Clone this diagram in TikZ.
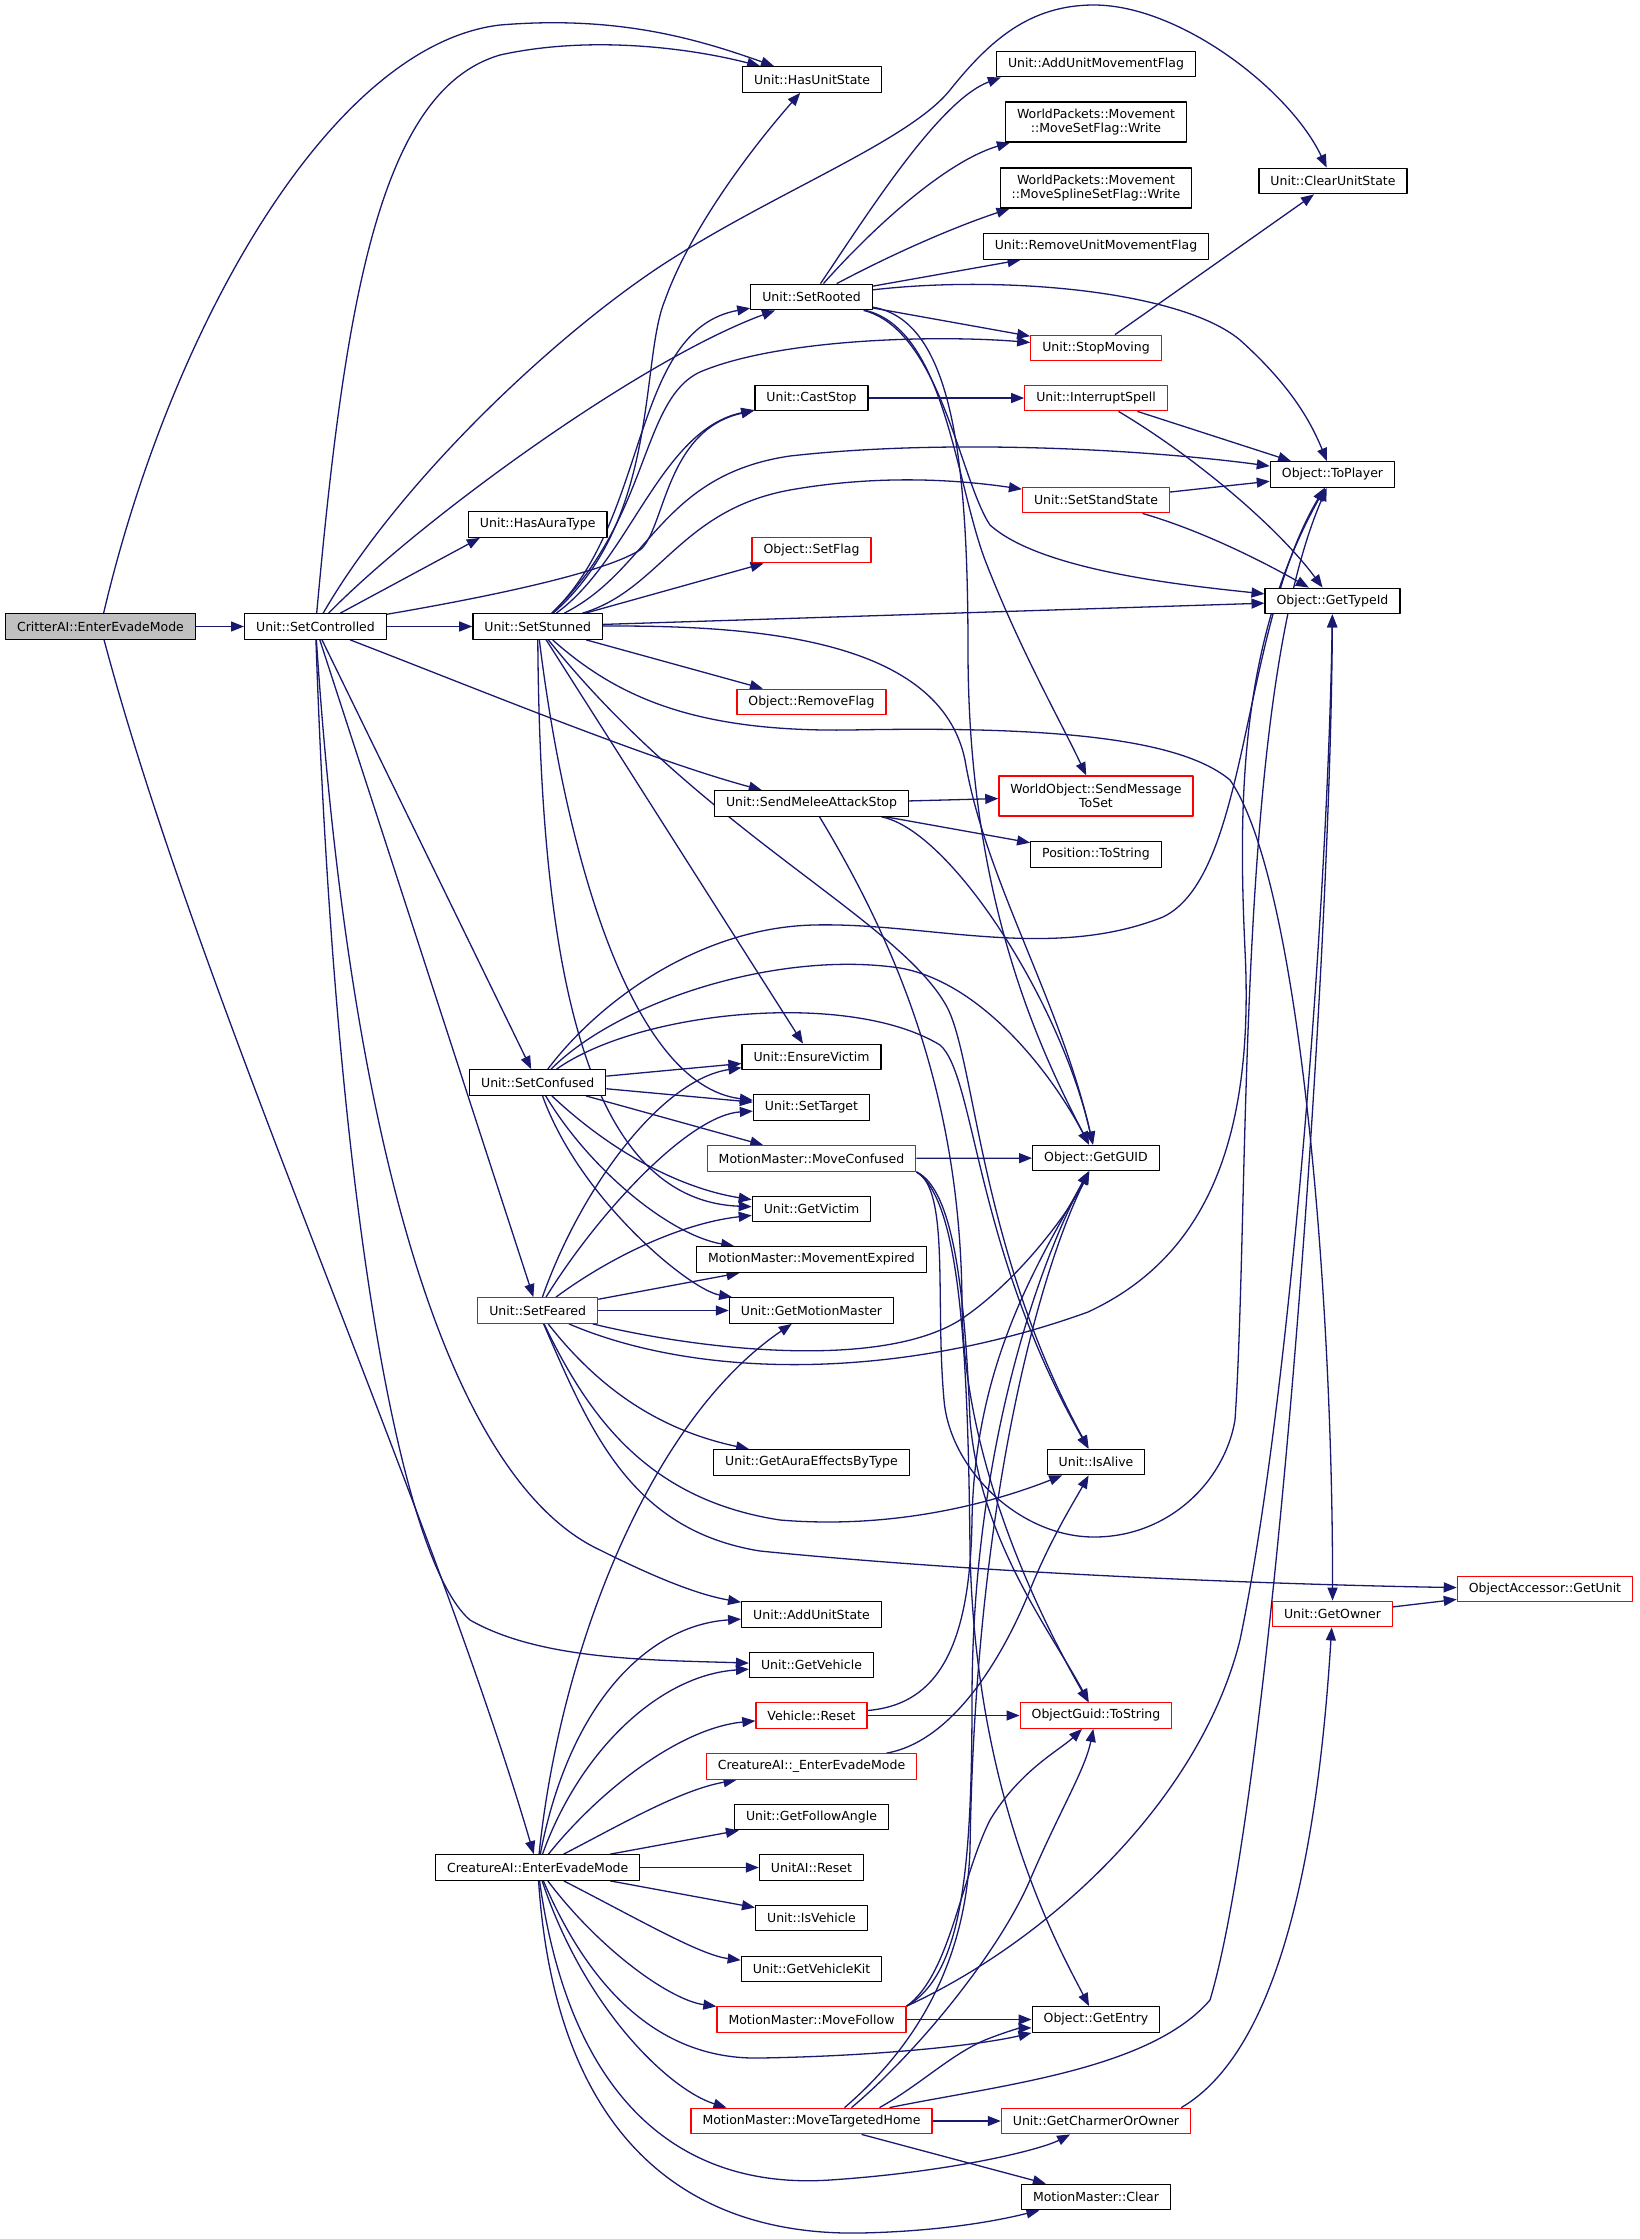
\documentclass[tikz,border=0pt]{standalone}
\usepackage[svgnames]{xcolor}
\usepackage{fontspec}
\setmainfont{DejaVu Sans}
\usepackage{tikz}
\usetikzlibrary{arrows.meta}
\pgfdeclarelayer{background}
\pgfsetlayers{background,main}
\begin{document}
\begin{tikzpicture}[x=1pt,y=-1pt,line join=round,>={Triangle[length=13pt,width=10pt]},
  fn/.style={draw=Black,fill=White,line width=1.3pt,minimum height=25.5pt,inner xsep=11.5pt,inner ysep=2pt,
    font=\fontsize{12.5}{14.5}\selectfont,align=center},
  fnred/.style={fn,draw=Red},
  fnroot/.style={fn,fill=Silver},
  fntall/.style={minimum height=40pt},
  call/.style={->,draw=MidnightBlue,line width=1.3pt}]
\useasboundingbox (0,0) rectangle (1640,2239);
% column 1 and 2
\node[fnroot] (critter) at (100.5,626.5) {CritterAI::EnterEvadeMode};
\node[fn] (setcontrolled) at (315.5,626.5) {Unit::SetControlled};
% column 3
\node[fn] (hasauratype) at (537.7,524.5) {Unit::HasAuraType};
\node[fn] (setstunned) at (537.7,626.5) {Unit::SetStunned};
\node[fn] (setconfused) at (537.7,1082.5) {Unit::SetConfused};
\node[fnred] (setfeared) at (537.7,1310.5) {Unit::SetFeared};
\node[fn] (creatureevade) at (537.7,1867.5) {CreatureAI::EnterEvadeMode};
% column 4
\node[fn] (hasunitstate) at (812,79.5) {Unit::HasUnitState};
\node[fn] (setrooted) at (811.5,297) {Unit::SetRooted};
\node[fn] (caststop) at (811.5,398) {Unit::CastStop};
\node[fnred] (setflag) at (811.5,550) {Object::SetFlag};
\node[fnred] (removeflag) at (811.5,702) {Object::RemoveFlag};
\node[fn] (sendmelee) at (811.5,803.5) {Unit::SendMeleeAttackStop};
\node[fn] (ensurevictim) at (811.5,1057) {Unit::EnsureVictim};
\node[fn] (settarget) at (811.5,1107.5) {Unit::SetTarget};
\node[fnred] (moveconfused) at (811.5,1158.5) {MotionMaster::MoveConfused};
\node[fn] (getvictim) at (811.5,1209) {Unit::GetVictim};
\node[fn] (moveexpired) at (811.5,1259.5) {MotionMaster::MovementExpired};
\node[fn] (getmotionmaster) at (811.5,1310.5) {Unit::GetMotionMaster};
\node[fn] (getauraeffects) at (811.5,1462.5) {Unit::GetAuraEffectsByType};
\node[fn] (addunitstate) at (811.5,1614.5) {Unit::AddUnitState};
\node[fn] (getvehicle) at (811.5,1665) {Unit::GetVehicle};
\node[fnred] (vehiclereset) at (811.5,1715.5) {Vehicle::Reset};
\node[fnred] (underevade) at (811.5,1766.5) {CreatureAI::\_EnterEvadeMode};
\node[fn] (getfollowangle) at (811.5,1817) {Unit::GetFollowAngle};
\node[fn] (unitaireset) at (811.5,1867.5) {UnitAI::Reset};
\node[fn] (isvehicle) at (811.5,1918) {Unit::IsVehicle};
\node[fn] (getvehiclekit) at (811.5,1969) {Unit::GetVehicleKit};
\node[fnred] (movefollow) at (811.5,2019.5) {MotionMaster::MoveFollow};
\node[fnred] (movehome) at (811.5,2121) {MotionMaster::MoveTargetedHome};
% column 5
\node[fn] (addmoveflag) at (1096,64) {Unit::AddUnitMovementFlag};
\node[fn,fntall] (movesetflag) at (1096,122) {WorldPackets::Movement\\::MoveSetFlag::Write};
\node[fn,fntall] (movesplineflag) at (1096,188) {WorldPackets::Movement\\::MoveSplineSetFlag::Write};
\node[fn] (removemoveflag) at (1096,246.5) {Unit::RemoveUnitMovementFlag};
\node[fnred] (stopmoving) at (1096,348) {Unit::StopMoving};
\node[fnred] (interruptspell) at (1096,398) {Unit::InterruptSpell};
\node[fnred] (setstandstate) at (1096,500) {Unit::SetStandState};
\node[fnred,fntall] (sendmessage) at (1096,796) {WorldObject::SendMessage\\ToSet};
\node[fn] (postostring) at (1096,854.5) {Position::ToString};
\node[fn] (getguid) at (1096,1158) {Object::GetGUID};
\node[fn] (isalive) at (1096,1462) {Unit::IsAlive};
\node[fnred] (guidtostring) at (1096,1715.5) {ObjectGuid::ToString};
\node[fn] (getentry) at (1096,2019.5) {Object::GetEntry};
\node[fnred] (getcharmer) at (1096,2121) {Unit::GetCharmerOrOwner};
\node[fn] (mmclear) at (1096,2197) {MotionMaster::Clear};
% column 6 and 7
\node[fn] (clearunitstate) at (1333,181) {Unit::ClearUnitState};
\node[fn] (toplayer) at (1332.5,474.5) {Object::ToPlayer};
\node[fn] (gettypeid) at (1332.5,601) {Object::GetTypeId};
\node[fnred] (getowner) at (1332.5,1614) {Unit::GetOwner};
\node[fnred] (getunit) at (1545,1589) {ObjectAccessor::GetUnit};

\begin{pgfonlayer}{background}
\fill[White] (0,0) rectangle (1640,2239);
% CritterAI::EnterEvadeMode
\draw[call] (critter) -- (setcontrolled);
\draw[call] (critter) .. controls (170,330) and (330,45) .. (500,25) .. controls (620,15) and (700,40) .. (hasunitstate);
\draw[call] (critter) .. controls (200,1000) and (430,1500) .. (creatureevade);
% Unit::SetControlled
\draw[call] (setcontrolled) .. controls (345,300) and (380,90) .. (500,55) .. controls (590,35) and (690,48) .. (hasunitstate);
\draw[call] (setcontrolled) .. controls (400,480) and (560,330) .. (670,260) .. controls (780,190) and (910,140) .. (950,90)
  .. controls (990,40) and (1030,5) .. (1094,5) .. controls (1180,5) and (1290,90) .. (clearunitstate);
\draw[call] (setcontrolled) .. controls (420,520) and (640,360) .. (setrooted);
\draw[call] (setcontrolled) -- ([xshift=12pt]hasauratype.south west);
\draw[call] (setcontrolled) .. controls (470,600) and (600,575) .. (640,550) .. controls (665,530) and (665,430) .. (caststop);
\draw[call] (setcontrolled) -- (setstunned);
\draw[call] (setcontrolled) .. controls (480,690) and (650,760) .. (sendmelee);
\draw[call] (setcontrolled) -- (setconfused);
\draw[call] (setcontrolled) -- (setfeared);
\draw[call] (setcontrolled) .. controls (350,1150) and (450,1480) .. (600,1550) .. controls (660,1580) and (700,1595) .. (addunitstate);
\draw[call] (setcontrolled) .. controls (335,1200) and (400,1560) .. (470,1620) .. controls (540,1660) and (650,1660) .. (getvehicle);
% Unit::SetStunned
\draw[call] (setstunned) .. controls (660,520) and (640,360) .. (665,300) .. controls (690,230) and (750,150) .. (hasunitstate);
\draw[call] (setstunned) .. controls (650,520) and (630,330) .. (setrooted);
\draw[call] (setstunned) .. controls (630,560) and (660,430) .. (caststop);
\draw[call] (setstunned) .. controls (650,520) and (640,400) .. (700,372) .. controls (780,338) and (940,335) .. (stopmoving);
\draw[call] (setstunned) .. controls (650,570) and (660,475) .. (790,456) .. controls (950,438) and (1150,450) .. (toplayer);
\draw[call] (setstunned) .. controls (660,590) and (680,510) .. (790,490) .. controls (880,474) and (960,480) .. (setstandstate);
\draw[call] (setstunned) -- (setflag);
\draw[call] (setstunned) -- (gettypeid);
\draw[call] (setstunned) -- (removeflag);
\draw[call] (setstunned) .. controls (760,625) and (940,640) .. (965,760) .. controls (985,880) and (1060,1000) .. (getguid);
\draw[call] (setstunned) .. controls (620,700) and (700,732) .. (850,730) .. controls (1050,726) and (1180,738) .. (1230,780)
  .. controls (1300,880) and (1333,1300) .. (getowner);
\draw[call] (setstunned) -- (ensurevictim);
\draw[call] (setstunned) .. controls (565,850) and (630,1085) .. (settarget);
\draw[call] (setstunned) .. controls (540,950) and (580,1200) .. (getvictim);
\draw[call] (setstunned) .. controls (700,830) and (900,920) .. (947,1007) .. controls (975,1060) and (980,1250) .. (isalive);
% Unit::SetRooted
\draw[call] (setrooted) .. controls (870,210) and (940,100) .. ([xshift=5pt]addmoveflag.south west);
\draw[call] (setrooted) .. controls (880,220) and (950,160) .. ([xshift=5pt]movesetflag.south west);
\draw[call] (setrooted) .. controls (900,250) and (960,225) .. ([xshift=10pt]movesplineflag.south west);
\draw[call] (setrooted) -- (removemoveflag);
\draw[call] (setrooted) .. controls (1000,275) and (1180,290) .. (1240,340) .. controls (1290,385) and (1310,420) .. (toplayer);
\draw[call] (setrooted) -- (stopmoving);
\draw[call] (setrooted) .. controls (940,330) and (960,480) .. (990,525) .. controls (1040,570) and (1180,585) .. (gettypeid);
\draw[call] (setrooted) .. controls (945,330) and (955,480) .. (985,560) .. controls (1020,650) and (1060,720) .. (sendmessage);
\draw[call] (setrooted) .. controls (950,320) and (968,450) .. (968,650) .. controls (968,900) and (1040,1050) .. (getguid);
% small callers on the right
\draw[call] (stopmoving) -- (clearunitstate);
\draw[call] (caststop) -- (interruptspell);
\draw[call] (interruptspell) -- (toplayer);
\draw[call] (interruptspell) .. controls (1200,460) and (1280,530) .. (gettypeid);
\draw[call] (setstandstate) -- (toplayer);
\draw[call] (setstandstate) .. controls (1200,530) and (1260,560) .. (gettypeid);
% Unit::SendMeleeAttackStop
\draw[call] (sendmelee) -- (sendmessage);
\draw[call] (sendmelee) -- (postostring);
\draw[call] (sendmelee) .. controls (950,830) and (1060,1000) .. (getguid);
\draw[call] (sendmelee) .. controls (900,950) and (960,1100) .. (962,1300) .. controls (962,1450) and (1030,1600) .. (guidtostring);
% Unit::SetConfused
\draw[call] (setconfused) -- (ensurevictim);
\draw[call] (setconfused) -- (settarget);
\draw[call] (setconfused) -- (moveconfused);
\draw[call] (setconfused) .. controls (620,1160) and (690,1190) .. (getvictim);
\draw[call] (setconfused) .. controls (590,1170) and (670,1235) .. (moveexpired);
\draw[call] (setconfused) .. controls (580,1200) and (690,1290) .. (getmotionmaster);
\draw[call] (setconfused) .. controls (600,1000) and (700,928) .. (813,925) .. controls (926,922) and (1050,962) .. (1163,917)
  .. controls (1250,875) and (1240,630) .. (toplayer);
\draw[call] (setconfused) .. controls (620,1000) and (780,950) .. (900,968) .. controls (980,982) and (1050,1070) .. (getguid);
\draw[call] (setconfused) .. controls (640,1010) and (850,990) .. (940,1045) .. controls (975,1075) and (975,1250) .. (isalive);
% MotionMaster::MoveConfused
\draw[call] (moveconfused) -- (getguid);
\draw[call] (moveconfused.south east) .. controls (955,1190) and (965,1300) .. (970,1420) .. controls (980,1540) and (1050,1630) .. (guidtostring);
\draw[call] (moveconfused.south east) .. controls (960,1200) and (968,1350) .. (970,1550) .. controls (975,1800) and (1060,1950) .. (getentry);
\draw[call] (moveconfused.south east) .. controls (950,1190) and (935,1300) .. (944,1400) .. controls (950,1470) and (1020,1537) .. (1094,1537)
  .. controls (1170,1537) and (1225,1480) .. (1235,1420) .. controls (1250,1200) and (1235,700) .. (toplayer);
% Unit::SetFeared
\draw[call] (setfeared) .. controls (580,1190) and (660,1080) .. (ensurevictim);
\draw[call] (setfeared) .. controls (600,1210) and (690,1115) .. (settarget);
\draw[call] (setfeared) .. controls (620,1250) and (690,1222) .. (getvictim);
\draw[call] (setfeared) -- (moveexpired);
\draw[call] (setfeared) -- (getmotionmaster);
\draw[call] (setfeared) .. controls (600,1390) and (660,1430) .. (getauraeffects);
\draw[call] (setfeared) .. controls (590,1420) and (650,1500) .. (780,1520) .. controls (900,1530) and (1000,1500) .. (isalive);
\draw[call] (setfeared) .. controls (590,1430) and (630,1530) .. (760,1551) .. controls (1000,1575) and (1300,1585) .. (getunit);
\draw[call] (setfeared) .. controls (700,1350) and (880,1370) .. (960,1320) .. controls (1020,1280) and (1070,1210) .. (getguid);
\draw[call] (setfeared) .. controls (700,1380) and (900,1380) .. (1088,1312) .. controls (1200,1260) and (1255,1150) .. (1245,950)
  .. controls (1238,800) and (1240,640) .. (toplayer);
% CreatureAI::EnterEvadeMode
\draw[call] (creatureevade) .. controls (560,1650) and (650,1420) .. (getmotionmaster);
\draw[call] (creatureevade) .. controls (570,1700) and (650,1625) .. (addunitstate);
\draw[call] (creatureevade) .. controls (580,1750) and (660,1675) .. (getvehicle);
\draw[call] (creatureevade) .. controls (600,1790) and (680,1728) .. (vehiclereset);
\draw[call] (creatureevade) .. controls (620,1825) and (680,1790) .. (underevade);
\draw[call] (creatureevade) -- (getfollowangle);
\draw[call] (creatureevade) -- (unitaireset);
\draw[call] (creatureevade) -- (isvehicle);
\draw[call] (creatureevade) .. controls (640,1920) and (700,1955) .. (getvehiclekit);
\draw[call] (creatureevade) .. controls (600,1950) and (670,2000) .. (movefollow);
\draw[call] (creatureevade) .. controls (590,1990) and (660,2060) .. (760,2058) .. controls (880,2056) and (980,2045) .. (getentry.south west);
\draw[call] (creatureevade) .. controls (585,2010) and (670,2090) .. ([xshift=-85pt]movehome.north);
\draw[call] (creatureevade) .. controls (570,2100) and (680,2190) .. (830,2180) .. controls (950,2172) and (1040,2150) .. (getcharmer);
\draw[call] (creatureevade) .. controls (555,2130) and (680,2236) .. (860,2233) .. controls (960,2231) and (1020,2215) .. (mmclear);
% lower callers
\draw[call] (vehiclereset) -- (guidtostring);
\draw[call] (vehiclereset) .. controls (930,1705) and (970,1660) .. (972,1520) .. controls (975,1360) and (1040,1260) .. (getguid);
\draw[call] (underevade) .. controls (960,1740) and (1010,1640) .. (1030,1590) .. controls (1050,1540) and (1075,1500) .. (isalive);
\draw[call] (movefollow) -- (getentry);
\draw[call] (movefollow.north east) .. controls (1050,1940) and (1200,1800) .. (1240,1640) .. controls (1290,1400) and (1328,900) .. (gettypeid);
\draw[call] (movefollow.north east) .. controls (960,1975) and (972,1880) .. (972,1700) .. controls (972,1450) and (1040,1260) .. (getguid);
\draw[call] (movefollow.north east) .. controls (950,1975) and (960,1880) .. (990,1820) .. controls (1020,1770) and (1060,1750) .. (guidtostring);
\draw[call] (movehome) -- (getcharmer);
\draw[call] (movehome) -- (mmclear);
\draw[call] ([xshift=33pt]movehome.north) .. controls (900,2060) and (965,1980) .. (970,1850) .. controls (975,1500) and (1040,1270) .. (getguid);
\draw[call] ([xshift=40pt]movehome.north) .. controls (920,2050) and (1000,1950) .. (1030,1880) .. controls (1060,1810) and (1085,1770) .. (guidtostring);
\draw[call] ([xshift=68pt]movehome.north) .. controls (920,2085) and (950,2055) .. (985,2040) .. controls (1005,2032) and (1020,2028) .. ([yshift=5pt]getentry.south west);
\draw[call] ([xshift=78pt]movehome.north) .. controls (1000,2085) and (1150,2070) .. (1210,2000) .. controls (1270,1800) and (1330,1000) .. (gettypeid);
\draw[call] ([xshift=-10pt]getcharmer.north east) .. controls (1280,2050) and (1318,1850) .. (getowner);
\draw[call] (getowner) -- (getunit);
\end{pgfonlayer}
\end{tikzpicture}
\end{document}
